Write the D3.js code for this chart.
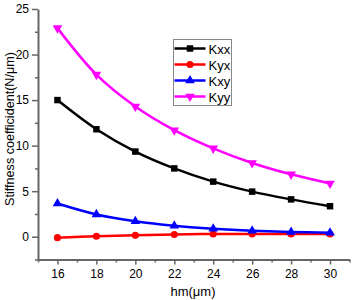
<!DOCTYPE html>
<html>
<head>
<meta charset="utf-8">
<script src="https://cdn.jsdelivr.net/npm/d3@7"></script>
<style>
  body { margin: 0; background: #fff; }
  text { font-family: "Liberation Sans", Arial, sans-serif; }
</style>
</head>
<body>
<div id="chart-area"></div>
<script>
var hm = [16, 18, 20, 22, 24, 26, 28, 30];
var kxx = [15.0, 11.8, 9.35, 7.5, 6.05, 4.95, 4.1, 3.35];
var kyx = [-0.1, 0.05, 0.15, 0.25, 0.3, 0.3, 0.3, 0.3];
var kxy = [3.65, 2.45, 1.7, 1.2, 0.88, 0.66, 0.52, 0.44];
var kyy = [22.9, 17.8, 14.3, 11.7, 9.7, 8.1, 6.85, 5.85];

var xTicks = [16, 18, 20, 22, 24, 26, 28, 30];
var yTicks = [0, 5, 10, 15, 20, 25];

var series = [
  {name: "Kxx", values: kxx, color: "#000000", symbol: d3.symbolSquare},
  {name: "Kyx", values: kyx, color: "#ff0000", symbol: d3.symbolCircle},
  {name: "Kxy", values: kxy, color: "#0000ff", symbol: d3.symbolTriangle},
  {name: "Kyy", values: kyy, color: "#ff00ff", symbol: "down"}
];

var width = 352;
var height = 300;

var xScale = d3.scaleLinear().domain([15, 31]).range([38, 349.5]);
var yScale = d3.scaleLinear().domain([-2.5, 25]).range([259.5, 9]);

var svg = d3.select("#chart-area")
  .append("svg")
  .attr("width", width)
  .attr("height", height);

// minor ticks
svg.append("g")
  .attr("transform", "translate(0," + yScale(-2.5) + ")")
  .call(d3.axisBottom(xScale).tickValues(d3.range(15, 32, 2)).tickSize(3).tickFormat(""))
  .call((g) => g.select(".domain").remove())
  .selectAll("line").attr("stroke", "#666").attr("stroke-width", 1.5);

svg.append("g")
  .attr("transform", "translate(" + xScale(15) + ",0)")
  .call(d3.axisLeft(yScale).tickValues(d3.range(-2.5, 25, 5)).tickSize(3).tickFormat(""))
  .call((g) => g.select(".domain").remove())
  .selectAll("line").attr("stroke", "#666").attr("stroke-width", 1.5);

var xAxisGroup = svg.append("g")
  .attr("transform", "translate(0," + yScale(-2.5) + ")")
  .call(d3.axisBottom(xScale).tickValues(xTicks).tickSize(5).tickSizeOuter(0).tickPadding(5));

var yAxisGroup = svg.append("g")
  .attr("transform", "translate(" + xScale(15) + ",0)")
  .call(d3.axisLeft(yScale).tickValues(yTicks).tickSize(6).tickSizeOuter(0).tickPadding(3));

[xAxisGroup, yAxisGroup].forEach((g) => {
  g.select(".domain").attr("stroke", "#666").attr("stroke-width", 2);
  g.selectAll(".tick line").attr("stroke", "#666").attr("stroke-width", 1.5);
  g.selectAll("text")
    .attr("fill", "#000")
    .style("font-size", "12px")
    .style("font-family", "'Liberation Sans', Arial, sans-serif");
});

svg.append("text")
  .attr("x", -129)
  .attr("y", 14)
  .attr("transform", "rotate(-90)")
  .attr("text-anchor", "middle")
  .style("font-size", "12.6px")
  .text("Stiffness coefficident(N/\u03bcm)");

svg.append("text")
  .attr("x", 193)
  .attr("y", 296)
  .attr("text-anchor", "middle")
  .style("font-size", "13px")
  .text("hm(\u03bcm)");

function marker(sym) {
  if (sym === "down") {
    return d3.symbol().type(d3.symbolTriangle).size(40)();
  }
  return d3.symbol().type(sym).size(sym === d3.symbolSquare ? 42 : 40)();
}

var line = d3.line()
  .x((d, i) => xScale(hm[i]))
  .y((d) => yScale(d))
  .curve(d3.curveCatmullRom.alpha(0.5));

series.forEach((s) => {
  svg.append("path")
    .attr("d", line(s.values))
    .attr("fill", "none")
    .attr("stroke", s.color)
    .attr("stroke-width", 2.5);

  svg.selectAll(null)
    .data(s.values)
    .enter()
    .append("path")
    .attr("d", marker(s.symbol))
    .attr("transform", (d, i) => "translate(" + xScale(hm[i]) + "," + yScale(d) + ")" + (s.symbol === "down" ? " rotate(180)" : ""))
    .attr("fill", s.color);
});

// legend
var legend = svg.append("g").attr("transform", "translate(173.5,39.5)");
legend.append("rect")
  .attr("width", 58)
  .attr("height", 66)
  .attr("fill", "#fff")
  .attr("stroke", "#888")
  .attr("stroke-width", 1);

series.forEach((s, i) => {
  var y = 9 + i * 16;
  legend.append("line")
    .attr("x1", 1).attr("x2", 32)
    .attr("y1", y).attr("y2", y)
    .attr("stroke", s.color)
    .attr("stroke-width", 2.5);
  legend.append("path")
    .attr("d", marker(s.symbol))
    .attr("transform", "translate(16.5," + y + ")" + (s.symbol === "down" ? " rotate(180)" : ""))
    .attr("fill", s.color);
  legend.append("text")
    .attr("x", 35)
    .attr("y", y + 5)
    .style("font-size", "13px")
    .text(s.name);
});
</script>
</body>
</html>
